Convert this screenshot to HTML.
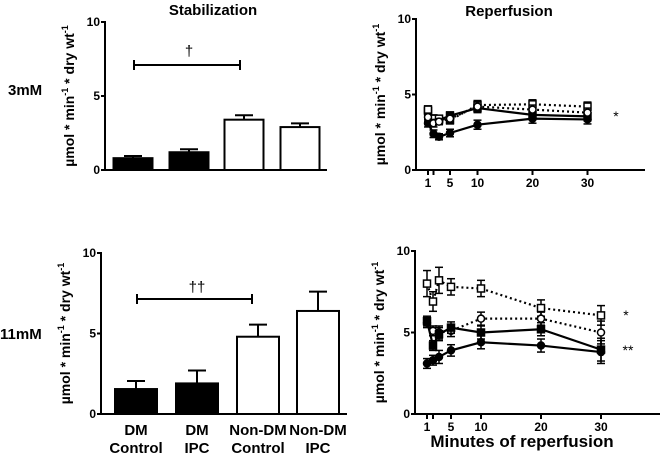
<!DOCTYPE html>
<html><head><meta charset="utf-8"><style>
body{margin:0;background:#fff}
svg{display:block;font-family:"Liberation Sans",Arial,sans-serif;font-weight:bold}
</style></head><body>
<svg id="fig" width="662" height="458" viewBox="0 0 662 458" xmlns="http://www.w3.org/2000/svg">
<text x="213" y="15" font-size="15" text-anchor="middle">Stabilization</text>
<text x="509" y="16" font-size="15" text-anchor="middle">Reperfusion</text>
<text x="8" y="95" font-size="15">3mM</text>
<text x="0" y="339" font-size="15">11mM</text>
<text x="522" y="447" font-size="17" text-anchor="middle">Minutes of reperfusion</text>
<g id="g"></g>
</svg>
<script>
const barCats=["DM Control","DM IPC","Non-DM Control","Non-DM IPC"];
const barFill=["#000","#000","#fff","#fff"];
const bar3Vals=[0.8,1.2,3.4,2.9];
const bar3Err=[0.15,0.2,0.3,0.25];
const bar11Vals=[1.55,1.9,4.8,6.4];
const bar11Err=[0.5,0.8,0.75,1.2];
const yTicks=[0,5,10];
const timeTicks=[1,5,10,20,30];
const times=[1,2,3,5,10,20,30];
const r3CircleF=[3.1,2.4,2.2,2.45,3.0,3.4,3.35];
const r3SquareF=[3.9,3.3,3.3,3.6,4.1,3.65,3.55];
const r3SquareO=[4.0,3.4,3.4,3.3,4.3,4.35,4.2];
const r3CircleO=[3.5,3.1,3.2,3.4,4.2,4.0,3.8];
const r3Err=[0.25,0.25,0.2,0.25,0.3,0.3,0.3];
const r11SquareO=[8.0,6.9,8.2,7.8,7.7,6.5,6.05];
const r11SquareOErr=[0.8,0.6,0.8,0.5,0.5,0.5,0.6];
const r11CircleO=[5.6,5.1,5.0,5.1,5.85,5.85,5.0];
const r11SquareF=[5.7,4.2,4.9,5.3,5.0,5.2,3.95];
const r11CircleF=[3.1,3.3,3.5,3.9,4.4,4.2,3.8];
const r11Err=[0.3,0.3,0.4,0.35,0.4,0.4,0.7];

const NS="http://www.w3.org/2000/svg";
const G=document.getElementById('g');
function el(t,a,parent){const e=document.createElementNS(NS,t);for(const k in a)e.setAttribute(k,a[k]);(parent||G).appendChild(e);return e;}

function axes(x0,xEnd,y0,y10,name){
  const ys=v=>y0-(y0-y10)*v/10;
  let l=el('line',{x1:x0,y1:y10-1,x2:x0,y2:y0,stroke:'#000','stroke-width':2});
  
  
  l=el('line',{x1:x0-4,y1:y0,x2:xEnd,y2:y0,stroke:'#000','stroke-width':2});
  
  
  yTicks.forEach(v=>{
    el('line',{x1:x0-4,y1:ys(v),x2:x0,y2:ys(v),stroke:'#000','stroke-width':2});
    const t=el('text',{x:x0-5,y:ys(v)+4,'font-size':12,'text-anchor':'end'});
    t.textContent=v;
    
    
  });
  const cy=(y0+y10)/2, cx=x0-31;
  const tt=el('text',{x:cx,y:cy,'font-size':14,'text-anchor':'middle',transform:`rotate(-90 ${cx} ${cy})`});
  tt.innerHTML='µmol * min<tspan dy="-6" font-size="9">-1</tspan><tspan dy="6"> * dry wt</tspan><tspan dy="-6" font-size="9">-1</tspan>';
  
  
  return ys;
}

function bars(x0,xEnd,y0,y10,centers,w,vals,errs,name,labels){
  const ys=axes(x0,xEnd,y0,y10,name);
  vals.forEach((v,i)=>{
    const c=centers[i];
    const e=ys(v+errs[i]);
    el('line',{x1:c,y1:ys(v),x2:c,y2:e,stroke:'#000','stroke-width':2});
    el('line',{x1:c-9,y1:e,x2:c+9,y2:e,stroke:'#000','stroke-width':2});
    const r=el('rect',{x:c-w/2,y:ys(v),width:w,height:y0-ys(v),fill:barFill[i],stroke:'#000','stroke-width':2});
    
    
    if(labels){
      const parts=barCats[i].split(' ');
      const a=parts.length>2?[parts[0]+' '+parts[1],parts[2]]:parts;
      a.forEach((s,j)=>{
        const t=el('text',{x:c,y:y0+21+j*18,'font-size':15,'text-anchor':'middle'});
        t.textContent=s.replace(' ','-');
        
        
      });
    }
  });
  return ys;
}

function sig(x1,x2,y,txt,tx,ty,name){
  el('line',{x1:x1,y1:y,x2:x2,y2:y,stroke:'#000','stroke-width':2});
  el('line',{x1:x1,y1:y-5,x2:x1,y2:y+5,stroke:'#000','stroke-width':2});
  el('line',{x1:x2,y1:y-5,x2:x2,y2:y+5,stroke:'#000','stroke-width':2});
  const t=el('text',{x:tx,y:ty,'font-size':15,'text-anchor':'middle','font-weight':'normal'});
  t.textContent=txt;
  
  
}

bars(105,327,170,22,[133,189,244,300],39,bar3Vals,bar3Err,'stab-3mm',false);
sig(134,240,65,'†',189,56,'significance-dagger-3mm');
bars(101,347,414,253,[136,197,258,318],42,bar11Vals,bar11Err,'stab-11mm',true);
sig(137,252,299,'††',197,292,'significance-dagger-11mm');

function linePanel(x0,xEnd,y0,y10,xz,xu,series,name){
  const ys=axes(x0,xEnd,y0,y10,name);
  const xs=t=>xz+xu*t;
  [1,2,5,10,20,30].forEach(v=>el('line',{x1:xs(v),y1:y0,x2:xs(v),y2:y0+5,stroke:'#000','stroke-width':2}));
  timeTicks.forEach(v=>{
    const t=el('text',{x:xs(v),y:y0+17,'font-size':12,'text-anchor':'middle'});
    t.textContent=v;
    
    
  });
  series.forEach(s=>{
    const p=el('polyline',{points:times.map((t,i)=>xs(t)+','+ys(s.v[i])).join(' '),fill:'none',stroke:'#000','stroke-width':2.2,'stroke-dasharray':s.dash?'2 3':'none'});
    
    
    times.forEach((t,i)=>{
      const x=xs(t),y=ys(s.v[i]),e=s.e[i];
      el('line',{x1:x,y1:ys(s.v[i]-e),x2:x,y2:ys(s.v[i]+e),stroke:'#000','stroke-width':1.5});
      el('line',{x1:x-4,y1:ys(s.v[i]+e),x2:x+4,y2:ys(s.v[i]+e),stroke:'#000','stroke-width':1.5});
      el('line',{x1:x-4,y1:ys(s.v[i]-e),x2:x+4,y2:ys(s.v[i]-e),stroke:'#000','stroke-width':1.5});
      const fill=s.open?'#fff':'#000';
      const m=s.sq?el('rect',{x:x-3.5,y:y-3.5,width:7,height:7,fill:fill,stroke:'#000','stroke-width':1.5}):el('circle',{cx:x,cy:y,r:3.5,fill:fill,stroke:'#000','stroke-width':1.5});
      
      
    });
  });
  return ys;
}
linePanel(416,645,170,19,422.5,5.5,[
 {n:'dm-control',v:r3CircleF,e:r3Err,sq:false,open:false,dash:false},
 {n:'dm-ipc',v:r3SquareF,e:r3Err,sq:true,open:false,dash:false},
 {n:'nondm-control',v:r3SquareO,e:r3Err,sq:true,open:true,dash:true},
 {n:'nondm-ipc',v:r3CircleO,e:r3Err,sq:false,open:true,dash:true}],'rep-3mm');
linePanel(415,660,414,251,421,6,[
 {n:'nondm-control',v:r11SquareO,e:r11SquareOErr,sq:true,open:true,dash:true},
 {n:'nondm-ipc',v:r11CircleO,e:r11Err,sq:false,open:true,dash:true},
 {n:'dm-ipc',v:r11SquareF,e:r11Err,sq:true,open:false,dash:false},
 {n:'dm-control',v:r11CircleF,e:r11Err,sq:false,open:false,dash:false}],'rep-11mm');

[[616,121,'*','sig-star-3mm'],[626,320,'*','sig-star-11mm'],[628,355,'**','sig-stars-11mm']].forEach(a=>{
  const t=el('text',{x:a[0],y:a[1],'font-size':14,'text-anchor':'middle','font-weight':'normal'});
  t.textContent=a[2];
  
  
});
</script>
</body></html>
